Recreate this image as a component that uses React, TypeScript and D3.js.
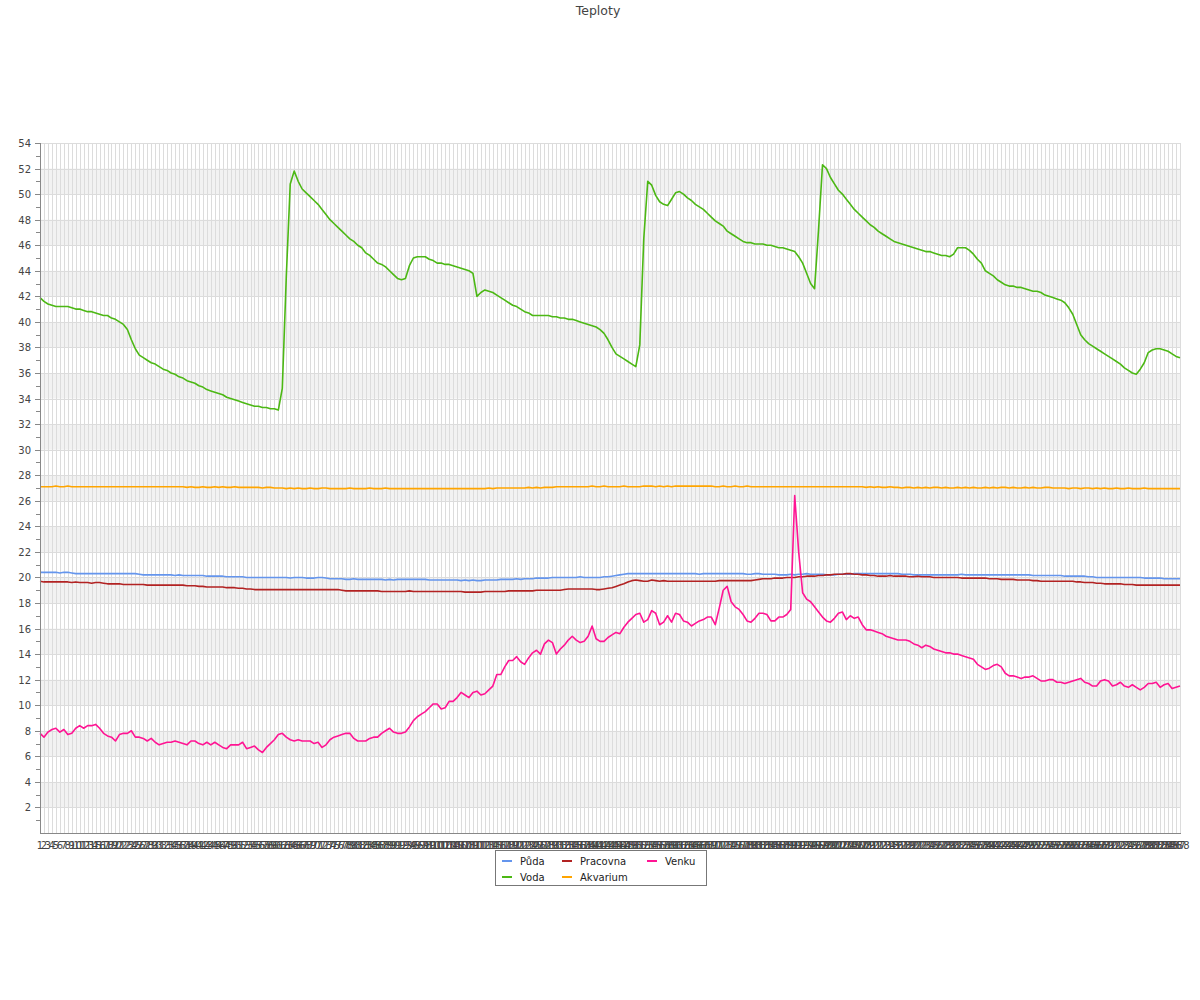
import React from "react";
import * as d3 from "d3";

const TITLE = "Teploty";
const categories: string[] = d3.range(1, 289).map((d) => String(d));
const yTicks: number[] = d3.range(2, 55, 2);
const yMinorTicks: number[] = d3.range(1, 55, 2);

const puda: number[] = [
  20.4,20.4,20.4,20.4,20.4,20.35,20.4,20.4,20.35,20.3,20.3,20.3,
  20.3,20.3,20.3,20.3,20.3,20.3,20.3,20.3,20.3,20.3,20.3,20.3,
  20.3,20.25,20.2,20.2,20.2,20.2,20.2,20.2,20.2,20.2,20.15,20.2,
  20.15,20.15,20.15,20.15,20.15,20.15,20.1,20.1,20.1,20.1,20.1,20.05,
  20.05,20.05,20.05,20.05,20.0,20.0,20.0,20.0,20.0,20.0,20.0,20.0,
  20.0,20.0,20.0,19.95,20.0,20.0,20.0,19.95,19.95,19.95,20.0,20.0,
  19.95,19.9,19.9,19.9,19.9,19.85,19.85,19.9,19.85,19.85,19.85,19.85,
  19.85,19.85,19.85,19.8,19.85,19.8,19.85,19.85,19.85,19.85,19.85,19.85,
  19.85,19.85,19.8,19.8,19.8,19.8,19.8,19.8,19.8,19.8,19.75,19.8,
  19.75,19.8,19.75,19.75,19.8,19.8,19.8,19.8,19.85,19.85,19.85,19.85,
  19.9,19.85,19.9,19.9,19.9,19.95,19.95,19.95,19.95,20.0,20.0,20.0,
  20.0,20.0,20.0,20.0,20.05,20.0,20.0,20.0,20.0,20.0,20.05,20.05,
  20.1,20.15,20.2,20.25,20.3,20.3,20.3,20.3,20.3,20.3,20.3,20.3,
  20.3,20.3,20.3,20.3,20.3,20.3,20.3,20.3,20.3,20.3,20.25,20.3,
  20.3,20.3,20.3,20.3,20.3,20.3,20.3,20.3,20.3,20.3,20.25,20.25,
  20.3,20.3,20.25,20.25,20.25,20.25,20.2,20.2,20.2,20.25,20.2,20.25,
  20.25,20.3,20.25,20.25,20.25,20.25,20.2,20.2,20.2,20.25,20.25,20.25,
  20.25,20.3,20.3,20.3,20.3,20.3,20.3,20.3,20.3,20.3,20.3,20.3,
  20.3,20.25,20.25,20.25,20.2,20.2,20.2,20.2,20.2,20.2,20.2,20.2,
  20.2,20.2,20.2,20.2,20.25,20.2,20.2,20.2,20.2,20.2,20.2,20.2,
  20.2,20.2,20.2,20.2,20.2,20.2,20.2,20.2,20.2,20.2,20.15,20.15,
  20.15,20.15,20.15,20.15,20.15,20.15,20.1,20.1,20.1,20.1,20.1,20.1,
  20.05,20.05,20.0,20.0,20.0,20.0,20.0,20.0,20.0,20.0,20.0,20.0,
  20.0,20.0,19.95,19.95,19.95,19.95,19.95,19.9,19.9,19.9,19.9,19.9,
];

const voda: number[] = [
  41.9,41.6,41.4,41.3,41.2,41.2,41.2,41.2,41.1,41.0,41.0,40.9,
  40.8,40.8,40.7,40.6,40.5,40.5,40.3,40.2,40.0,39.8,39.4,38.6,
  37.9,37.4,37.2,37.0,36.8,36.7,36.5,36.3,36.2,36.0,35.9,35.7,
  35.6,35.4,35.3,35.2,35.0,34.9,34.7,34.6,34.5,34.4,34.3,34.1,
  34.0,33.9,33.8,33.7,33.6,33.5,33.4,33.4,33.3,33.3,33.2,33.2,
  33.1,34.8,43.5,50.8,51.8,51.0,50.4,50.1,49.8,49.5,49.2,48.8,
  48.4,48.0,47.7,47.4,47.1,46.8,46.5,46.3,46.0,45.8,45.4,45.2,
  44.9,44.6,44.5,44.3,44.0,43.7,43.4,43.3,43.4,44.4,45.0,45.1,
  45.1,45.1,44.9,44.8,44.6,44.6,44.5,44.5,44.4,44.3,44.2,44.1,
  44.0,43.8,42.0,42.3,42.5,42.4,42.3,42.1,41.9,41.7,41.5,41.3,
  41.2,41.0,40.8,40.7,40.5,40.5,40.5,40.5,40.5,40.4,40.4,40.3,
  40.3,40.2,40.2,40.1,40.0,39.9,39.8,39.7,39.6,39.4,39.1,38.6,
  38.0,37.5,37.3,37.1,36.9,36.7,36.5,38.2,46.5,51.0,50.7,49.9,
  49.4,49.2,49.1,49.6,50.1,50.2,50.0,49.7,49.5,49.2,49.0,48.8,
  48.5,48.2,47.9,47.7,47.5,47.1,46.9,46.7,46.5,46.3,46.2,46.2,
  46.1,46.1,46.1,46.0,46.0,45.9,45.8,45.8,45.7,45.6,45.5,45.1,
  44.6,43.8,43.0,42.6,47.2,52.3,52.0,51.3,50.8,50.3,50.0,49.6,
  49.2,48.8,48.5,48.2,47.9,47.6,47.4,47.1,46.9,46.7,46.5,46.3,
  46.2,46.1,46.0,45.9,45.8,45.7,45.6,45.5,45.5,45.4,45.3,45.2,
  45.2,45.1,45.3,45.8,45.8,45.8,45.6,45.3,44.9,44.6,44.0,43.8,
  43.6,43.3,43.1,42.9,42.8,42.8,42.7,42.7,42.6,42.5,42.4,42.4,
  42.3,42.1,42.0,41.9,41.8,41.7,41.5,41.1,40.6,39.8,39.0,38.6,
  38.3,38.1,37.9,37.7,37.5,37.3,37.1,36.9,36.7,36.4,36.2,36.0,
  35.9,36.3,36.8,37.6,37.8,37.9,37.9,37.8,37.7,37.5,37.3,37.2,
];

const pracovna: number[] = [
  19.7,19.65,19.65,19.65,19.65,19.65,19.65,19.65,19.6,19.65,19.6,19.6,
  19.6,19.55,19.6,19.6,19.55,19.5,19.5,19.5,19.5,19.45,19.45,19.45,
  19.45,19.45,19.45,19.4,19.4,19.4,19.4,19.4,19.4,19.4,19.4,19.4,
  19.4,19.35,19.35,19.35,19.3,19.3,19.25,19.25,19.25,19.25,19.25,19.2,
  19.2,19.2,19.15,19.15,19.1,19.1,19.05,19.05,19.05,19.05,19.05,19.05,
  19.05,19.05,19.05,19.05,19.05,19.05,19.05,19.05,19.05,19.05,19.05,19.05,
  19.05,19.05,19.05,19.05,19.0,18.95,18.95,18.95,18.95,18.95,18.95,18.95,
  18.95,18.95,18.9,18.9,18.9,18.9,18.9,18.9,18.9,18.95,18.9,18.9,
  18.9,18.9,18.9,18.9,18.9,18.9,18.9,18.9,18.9,18.9,18.9,18.85,
  18.85,18.85,18.85,18.85,18.9,18.9,18.9,18.9,18.9,18.9,18.95,18.95,
  18.95,18.95,18.95,18.95,18.95,19.0,19.0,19.0,19.0,19.0,19.0,19.0,
  19.05,19.1,19.1,19.1,19.1,19.1,19.1,19.1,19.05,19.05,19.1,19.15,
  19.2,19.3,19.4,19.5,19.65,19.75,19.8,19.75,19.7,19.7,19.8,19.75,
  19.7,19.75,19.7,19.7,19.7,19.7,19.7,19.7,19.7,19.7,19.7,19.7,
  19.7,19.7,19.7,19.75,19.75,19.75,19.75,19.75,19.75,19.75,19.75,19.75,
  19.8,19.85,19.9,19.9,19.9,19.95,19.95,19.95,20.0,20.0,20.0,20.05,
  20.05,20.1,20.1,20.1,20.15,20.15,20.2,20.2,20.25,20.25,20.25,20.3,
  20.3,20.25,20.25,20.2,20.2,20.15,20.15,20.1,20.1,20.1,20.15,20.1,
  20.1,20.1,20.1,20.05,20.05,20.1,20.05,20.05,20.05,20.0,20.0,20.0,
  20.0,20.0,20.0,20.0,19.95,19.95,19.95,19.95,19.95,19.95,19.95,19.9,
  19.9,19.9,19.85,19.85,19.85,19.85,19.8,19.8,19.8,19.8,19.75,19.75,
  19.7,19.7,19.7,19.7,19.7,19.7,19.7,19.7,19.7,19.65,19.65,19.6,
  19.6,19.6,19.55,19.55,19.5,19.5,19.5,19.5,19.5,19.45,19.45,19.45,
  19.4,19.4,19.4,19.4,19.4,19.4,19.4,19.4,19.4,19.4,19.4,19.4,
];

const akvarium: number[] = [
  27.1,27.1,27.1,27.1,27.15,27.1,27.1,27.15,27.1,27.1,27.1,27.1,
  27.1,27.1,27.1,27.1,27.1,27.1,27.1,27.1,27.1,27.1,27.1,27.1,
  27.1,27.1,27.1,27.1,27.1,27.1,27.1,27.1,27.1,27.1,27.1,27.1,
  27.1,27.05,27.1,27.05,27.05,27.1,27.05,27.05,27.1,27.05,27.1,27.05,
  27.05,27.1,27.05,27.05,27.05,27.05,27.05,27.05,27.0,27.05,27.05,27.0,
  27.0,27.0,26.95,27.0,26.95,27.0,26.95,26.95,27.0,26.95,26.95,27.0,
  27.0,26.95,26.95,26.95,26.95,26.95,27.0,26.95,26.95,26.95,26.95,27.0,
  26.95,26.95,26.95,27.0,26.95,26.95,26.95,26.95,26.95,26.95,26.95,26.95,
  26.95,26.95,26.95,26.95,26.95,26.95,26.95,26.95,26.95,26.95,26.95,26.95,
  26.95,26.95,26.95,26.95,26.95,27.0,26.95,27.0,27.0,27.0,27.0,27.0,
  27.0,27.0,27.0,27.05,27.0,27.05,27.0,27.05,27.05,27.05,27.1,27.1,
  27.1,27.1,27.1,27.1,27.1,27.1,27.1,27.15,27.1,27.1,27.15,27.1,
  27.1,27.1,27.1,27.15,27.1,27.1,27.1,27.1,27.15,27.15,27.15,27.1,
  27.15,27.1,27.15,27.1,27.15,27.15,27.15,27.15,27.15,27.15,27.15,27.15,
  27.15,27.15,27.1,27.1,27.15,27.1,27.1,27.15,27.1,27.1,27.15,27.1,
  27.1,27.1,27.1,27.1,27.1,27.1,27.1,27.1,27.1,27.1,27.1,27.1,
  27.1,27.1,27.1,27.1,27.1,27.1,27.1,27.1,27.1,27.1,27.1,27.1,
  27.1,27.1,27.1,27.1,27.05,27.1,27.05,27.1,27.05,27.05,27.1,27.05,
  27.05,27.0,27.05,27.05,27.0,27.05,27.0,27.05,27.0,27.05,27.05,27.0,
  27.05,27.0,27.0,27.05,27.0,27.05,27.0,27.05,27.0,27.0,27.05,27.0,
  27.05,27.0,27.05,27.05,27.0,27.05,27.0,27.0,27.05,27.0,27.05,27.0,
  27.0,27.05,27.05,27.0,27.0,27.0,27.0,26.95,27.0,27.0,26.95,27.0,
  27.0,26.95,27.0,26.95,27.0,26.95,26.95,27.0,26.95,26.95,27.0,26.95,
  26.95,26.95,27.0,26.95,26.95,26.95,26.95,26.95,26.95,26.95,26.95,26.95,
];

const venku: number[] = [
  7.8,7.5,7.9,8.1,8.2,7.9,8.1,7.7,7.8,8.2,8.4,8.2,
  8.4,8.4,8.5,8.2,7.8,7.6,7.5,7.2,7.7,7.8,7.8,8.0,
  7.5,7.5,7.4,7.2,7.4,7.1,6.9,7.0,7.1,7.1,7.2,7.1,
  7.0,6.9,7.2,7.2,7.0,6.9,7.1,6.9,7.1,6.9,6.7,6.6,
  6.9,6.9,6.9,7.1,6.6,6.7,6.8,6.5,6.3,6.7,7.0,7.3,
  7.7,7.8,7.5,7.3,7.2,7.3,7.2,7.2,7.2,7.0,7.1,6.7,
  6.9,7.3,7.5,7.6,7.7,7.8,7.8,7.4,7.2,7.2,7.2,7.4,
  7.5,7.5,7.8,8.0,8.2,7.9,7.8,7.8,7.9,8.3,8.8,9.1,
  9.3,9.5,9.8,10.1,10.1,9.7,9.8,10.3,10.3,10.6,11.0,10.8,
  10.6,11.0,11.1,10.8,10.9,11.2,11.5,12.4,12.4,13.0,13.5,13.5,
  13.8,13.4,13.2,13.7,14.1,14.3,14.0,14.8,15.1,14.9,14.0,14.4,
  14.7,15.1,15.4,15.1,14.9,15.0,15.4,16.2,15.2,15.0,15.0,15.3,
  15.5,15.7,15.6,16.1,16.5,16.8,17.1,17.2,16.5,16.7,17.4,17.2,
  16.3,16.5,17.0,16.5,17.2,17.1,16.6,16.5,16.2,16.4,16.6,16.7,
  16.9,16.9,16.3,17.6,19.0,19.3,18.1,17.7,17.5,17.1,16.6,16.5,
  16.8,17.2,17.2,17.1,16.6,16.6,16.9,16.9,17.1,17.5,26.4,22.0,
  18.8,18.3,18.1,17.7,17.3,16.9,16.6,16.5,16.8,17.2,17.3,16.7,
  17.0,16.8,16.9,16.3,15.9,15.9,15.8,15.7,15.6,15.4,15.3,15.2,
  15.1,15.1,15.1,15.0,14.8,14.7,14.5,14.7,14.6,14.4,14.3,14.2,
  14.1,14.1,14.0,14.0,13.9,13.8,13.7,13.6,13.2,13.0,12.8,12.9,
  13.1,13.2,13.0,12.5,12.3,12.3,12.2,12.1,12.2,12.2,12.3,12.1,
  11.9,11.9,12.0,12.0,11.8,11.8,11.7,11.8,11.9,12.0,12.1,11.8,
  11.7,11.5,11.5,11.9,12.0,11.9,11.5,11.6,11.8,11.5,11.4,11.6,
  11.4,11.2,11.4,11.7,11.7,11.8,11.4,11.6,11.7,11.3,11.4,11.5,
];

const seriesNames: string[] = ["Půda", "Voda", "Pracovna", "Akvarium", "Venku"];
const seriesColors: string[] = ["#6495ed", "#4cb814", "#b22222", "#ffa500", "#ff1493"];
const seriesValues: number[][] = [puda, voda, pracovna, akvarium, venku];

const W = 1200;
const H = 1000;
const left = 40;
const right = 1180;
const top = 143;
const bottom = 833;
const FONT = "'DejaVu Sans', Verdana, sans-serif";

export default function App() {
  const x = d3.scalePoint<string>().domain(categories).range([left, right]);
  const y = d3.scaleLinear().domain([0, 54]).range([bottom, top]);
  const line = d3
    .line<number>()
    .x((_, i) => x(categories[i]) as number)
    .y((d) => y(d));

  const bands = d3.range(0, 54, 2).filter((v) => (v / 2) % 2 === 1);

  const legendX = 495.5;
  const legendY = 850.5;
  const colX = [502, 562, 647];
  const rowY = [861, 877];

  return (
    <svg
      width={W}
      height={H}
      style={{ position: "absolute", left: 0, top: 0, background: "#fff" }}
      fontFamily={FONT}
    >
      <text x={598} y={15} textAnchor="middle" fontSize={12.5} fill="#444">
        {TITLE}
      </text>
      {bands.map((v) => (
        <rect key={"b" + v} x={left} y={y(v + 2)} width={right - left} height={y(v) - y(v + 2)} fill="#f2f2f2" />
      ))}
      {categories.slice(1).map((c) => {
        const px = Math.round(x(c) as number) + 0.5;
        return <line key={"v" + c} x1={px} x2={px} y1={top} y2={bottom} stroke="#dcdcdc" strokeWidth={1} />;
      })}
      {yTicks.map((t) => {
        const py = Math.round(y(t)) + 0.5;
        return <line key={"h" + t} x1={left} x2={right} y1={py} y2={py} stroke="#dcdcdc" strokeWidth={1} />;
      })}
      {seriesValues.map((vals, k) => (
        <path key={"s" + k} d={line(vals) || ""} fill="none" stroke={seriesColors[k]} strokeWidth={1.6} strokeLinejoin="round" />
      ))}
      <line x1={left + 0.5} x2={left + 0.5} y1={top} y2={bottom + 0.5} stroke="#888" />
      <line x1={left} x2={right + 1} y1={bottom + 0.5} y2={bottom + 0.5} stroke="#888" />
      {yTicks.map((t) => {
        const py = Math.round(y(t)) + 0.5;
        return (
          <g key={"yt" + t}>
            <line x1={left - 5} x2={left} y1={py} y2={py} stroke="#888" />
            <text x={31} y={py + 3.5} textAnchor="end" fontSize={10} fill="#444">
              {t}
            </text>
          </g>
        );
      })}
      {yMinorTicks.map((t) => {
        const py = Math.round(y(t)) + 0.5;
        return <line key={"ym" + t} x1={left - 4} x2={left} y1={py} y2={py} stroke="#888" />;
      })}
      {categories.map((c) => (
        <text key={"xl" + c} x={x(c) as number} y={849} textAnchor="middle" fontSize={10} fill="#444">
          {c}
        </text>
      ))}
      <rect x={legendX} y={legendY} width={211} height={35} fill="#fff" stroke="#777" />
      {seriesNames.map((name, k) => {
        const col = Math.floor(k / 2);
        const row = k % 2;
        return (
          <g key={"lg" + k}>
            <line x1={colX[col]} x2={colX[col] + 10} y1={rowY[row]} y2={rowY[row]} stroke={seriesColors[k]} strokeWidth={2} />
            <text x={colX[col] + 18} y={rowY[row] + 3.5} fontSize={10} fill="#222">
              {name}
            </text>
          </g>
        );
      })}
    </svg>
  );
}
